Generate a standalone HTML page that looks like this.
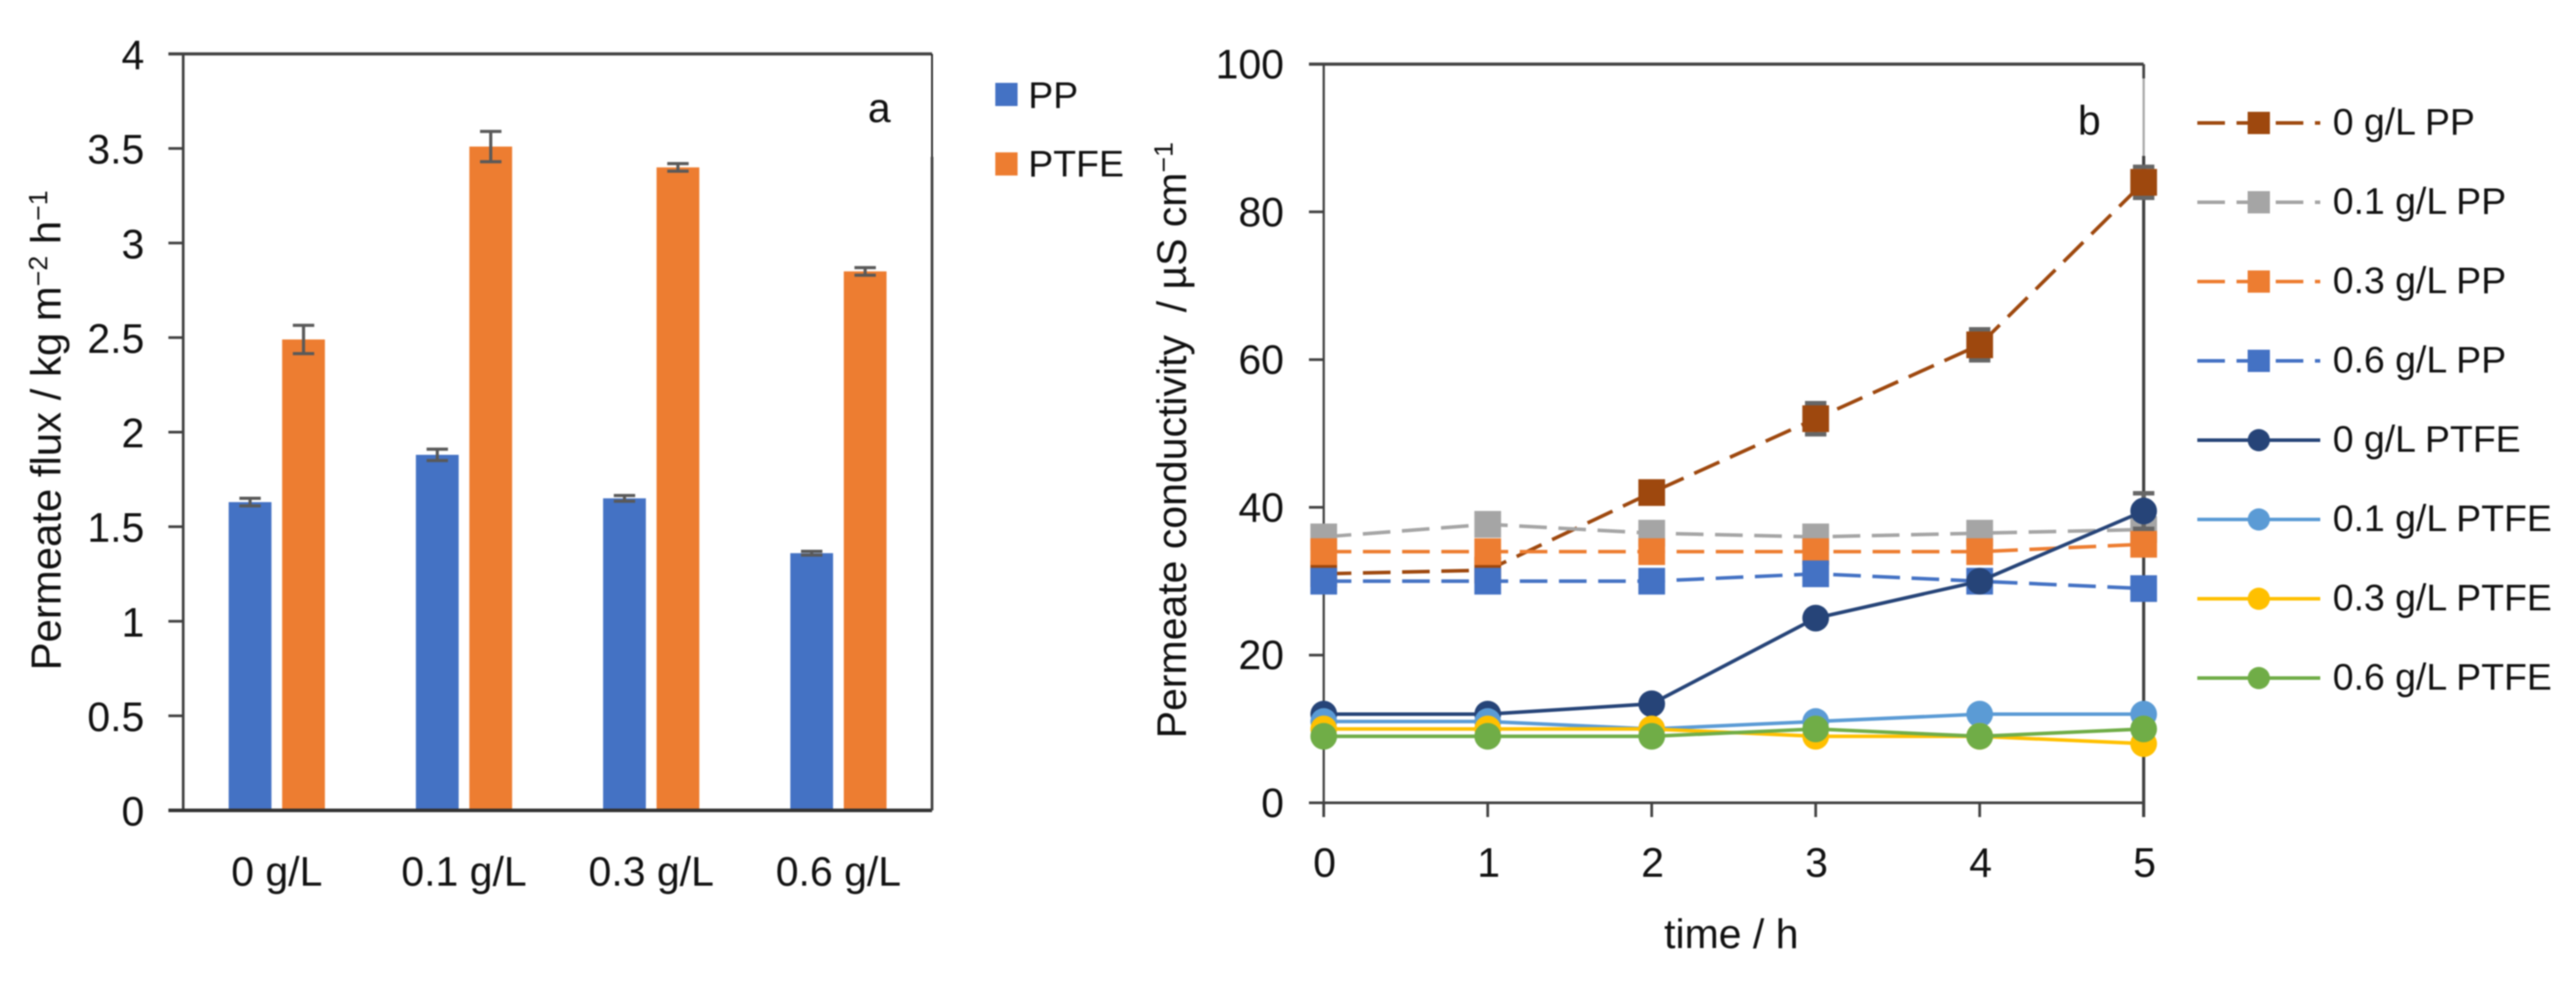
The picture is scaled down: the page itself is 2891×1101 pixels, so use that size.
<!DOCTYPE html>
<html lang="en">
<head>
<meta charset="utf-8">
<title>Permeate flux and conductivity charts</title>
<style>
html,body{margin:0;padding:0;background:#fff;}
svg{display:block;filter:blur(0.7px);}
text{font-family:"Liberation Sans",Arial,sans-serif;fill:#111;}
</style>
</head>
<body>
<svg id="fig" xmlns="http://www.w3.org/2000/svg" width="2891" height="1101" viewBox="0 0 2891 1101">
  <rect x="0" y="0" width="2891" height="1101" fill="#fff"/>
  <g id="panelA"></g>
  <g id="panelB"></g>

  <text transform="translate(68,483) rotate(-90)" text-anchor="middle" font-size="47">Permeate flux / kg m<tspan font-size="30" dy="-15">−2</tspan><tspan dy="15"> h</tspan><tspan font-size="30" dy="-15">−1</tspan></text>
  <text x="974" y="137" font-size="46">a</text>
  <rect x="1117" y="93" width="25" height="26" fill="#4472C4"/>
  <text x="1154" y="121" font-size="42">PP</text>
  <rect x="1117" y="171" width="25" height="26" fill="#ED7D31"/>
  <text x="1154" y="198" font-size="42">PTFE</text>

  <text transform="translate(1331,494) rotate(-90)" text-anchor="middle" font-size="46" xml:space="preserve">Permeate conductivity  / µS cm<tspan font-size="30" dy="-15">−1</tspan></text>
  <text x="1943" y="1064" text-anchor="middle" font-size="46">time / h</text>
  <text x="2332" y="151" font-size="46">b</text>
</svg>
<script>
const barCategories = ['0 g/L', '0.1 g/L', '0.3 g/L', '0.6 g/L'];
const ppFlux = [1.63, 1.88, 1.65, 1.36];
const ptfeFlux = [2.49, 3.51, 3.40, 2.85];
const ppFluxErr = [0.02, 0.03, 0.015, 0.01];
const ptfeFluxErr = [0.075, 0.08, 0.02, 0.02];
const fluxTicks = [0, 0.5, 1, 1.5, 2, 2.5, 3, 3.5, 4];

const hours = [0, 1, 2, 3, 4, 5];
const condTicks = [0, 20, 40, 60, 80, 100];
const pp0 = [31, 31.5, 42, 52, 62, 84];
const pp01 = [36, 37.7, 36.5, 36, 36.5, 37];
const pp03 = [34, 34, 34, 34, 34, 35];
const pp06 = [30, 30, 30, 31, 30, 29];
const ptfe0 = [12, 12, 13.4, 25, 30, 39.5];
const ptfe01 = [11, 11, 10, 11, 12, 12];
const ptfe03 = [10, 10, 10, 9, 9, 8];
const ptfe06 = [9, 9, 9, 10, 9, 10];
const pp0Err = [0, 0, 0, 2.1, 2.1, 2.1];
const ptfe0Err = [0, 0, 0, 0, 0, 2.4];
const seriesNames = ['0 g/L PP', '0.1 g/L PP', '0.3 g/L PP', '0.6 g/L PP', '0 g/L PTFE', '0.1 g/L PTFE', '0.3 g/L PTFE', '0.6 g/L PTFE'];

const NS = 'http://www.w3.org/2000/svg';
const panelA = document.getElementById('panelA');
const panelB = document.getElementById('panelB');
const AXIS = '#404040';

function make(parent, tag, attrs, content) {
  const node = document.createElementNS(NS, tag);
  for (const key in attrs) node.setAttribute(key, attrs[key]);
  if (content !== undefined) node.textContent = content;
  parent.appendChild(node);
  return node;
}

/* ---------- Panel a: bars ---------- */
const aL = 205.6, aR = 1046, aT = 60.5, aB = 909.5;
const fluxY = v => aB - (v / 4) * (aB - aT);
const catX = i => aL + (i + 0.5) * (aR - aL) / barCategories.length;
const BAR_W = 48, BAR_GAP = 12;

let n;
fluxTicks.forEach(t => {
  n = make(panelA, 'line', {x1: 189, x2: aL, y1: fluxY(t), y2: fluxY(t), stroke: AXIS, 'stroke-width': 3});
  
  
  n = make(panelA, 'text', {x: 162, y: fluxY(t) + 17, 'text-anchor': 'end', 'font-size': 46}, String(t));
  
  
});

barCategories.forEach((c, i) => {
  const cx = catX(i);
  const groups = [
    {v: ppFlux[i], e: ppFluxErr[i], x: cx - BAR_GAP / 2 - BAR_W, fill: '#4472C4', name: 'bar-pp'},
    {v: ptfeFlux[i], e: ptfeFluxErr[i], x: cx + BAR_GAP / 2, fill: '#ED7D31', name: 'bar-ptfe'}
  ];
  groups.forEach(g => {
    n = make(panelA, 'rect', {x: g.x, y: fluxY(g.v), width: BAR_W, height: aB - fluxY(g.v), fill: g.fill});
    
    
    const ex = g.x + BAR_W / 2;
    n = make(panelA, 'path', {
      d: 'M' + (ex - 12) + ' ' + fluxY(g.v + g.e) + 'H' + (ex + 12) +
         'M' + ex + ' ' + fluxY(g.v + g.e) + 'V' + fluxY(g.v - g.e) +
         'M' + (ex - 12) + ' ' + fluxY(g.v - g.e) + 'H' + (ex + 12),
      stroke: '#595959', 'stroke-width': 3.5, fill: 'none'
    });
    
    
  });
  n = make(panelA, 'text', {x: cx, y: 994, 'text-anchor': 'middle', 'font-size': 46}, c);
  
  
});

n = make(panelA, 'path', {d: 'M' + aL + ' ' + aT + 'V' + aB, stroke: AXIS, 'stroke-width': 3, fill: 'none'});


n = make(panelA, 'path', {d: 'M189 ' + aB + 'H' + aR, stroke: '#333', 'stroke-width': 4, fill: 'none'});


n = make(panelA, 'path', {d: 'M189 ' + aT + 'H' + aR, stroke: '#404040', 'stroke-width': 3.5, fill: 'none'});


n = make(panelA, 'path', {d: 'M' + aR + ' ' + aT + 'V176', stroke: '#222', 'stroke-width': 2, fill: 'none'});


n = make(panelA, 'path', {d: 'M' + aR + ' 176V' + aB, stroke: '#404040', 'stroke-width': 3, fill: 'none'});



/* ---------- Panel b: lines ---------- */
const bL = 1485.6, bR = 2405.8, bT = 72, bB = 901;
const condY = v => bB - (v / 100) * (bB - bT);
const hourX = h => bL + (h / 5) * (bR - bL);

condTicks.forEach(t => {
  n = make(panelB, 'line', {x1: 1469, x2: bL, y1: condY(t), y2: condY(t), stroke: AXIS, 'stroke-width': 3});
  
  
  n = make(panelB, 'text', {x: 1441, y: condY(t) + 16, 'text-anchor': 'end', 'font-size': 46}, String(t));
  
  
});
hours.forEach(h => {
  n = make(panelB, 'line', {x1: hourX(h), x2: hourX(h), y1: bB, y2: 917, stroke: AXIS, 'stroke-width': 3});
  
  
  n = make(panelB, 'text', {x: hourX(h) + 1, y: 984, 'text-anchor': 'middle', 'font-size': 46}, String(h));
  
  
});
n = make(panelB, 'path', {d: 'M' + bL + ' ' + bT + 'V917', stroke: AXIS, 'stroke-width': 2.5, fill: 'none'});


n = make(panelB, 'path', {d: 'M1469 ' + bB + 'H' + bR, stroke: AXIS, 'stroke-width': 3, fill: 'none'});


n = make(panelB, 'path', {d: 'M1469 ' + bT + 'H' + bR, stroke: AXIS, 'stroke-width': 3.5, fill: 'none'});


n = make(panelB, 'path', {d: 'M' + bR + ' ' + bT + 'V88', stroke: AXIS, 'stroke-width': 3, fill: 'none'});


n = make(panelB, 'path', {d: 'M' + bR + ' 88V175', stroke: '#a8a8a8', 'stroke-width': 2.5, fill: 'none'});


n = make(panelB, 'path', {d: 'M' + bR + ' 175V917', stroke: AXIS, 'stroke-width': 3.5, fill: 'none'});



const seriesValues = [pp0, pp01, pp03, pp06, ptfe0, ptfe01, ptfe03, ptfe06];
const seriesColors = ['#9E480E', '#A5A5A5', '#ED7D31', '#4472C4', '#264478', '#5B9BD5', '#FFC000', '#70AD47'];
const seriesSlugs = ['pp-0', 'pp-01', 'pp-03', 'pp-06', 'ptfe-0', 'ptfe-01', 'ptfe-03', 'ptfe-06'];
const seriesErrs = [pp0Err, null, null, null, ptfe0Err, null, null, null];

function drawMarker(parent, x, y, isSquare, size, color) {
  if (isSquare) return make(parent, 'rect', {x: x - size / 2, y: y - size / 2, width: size, height: size, fill: color});
  return make(parent, 'circle', {cx: x, cy: y, r: size / 2, fill: color});
}

seriesValues.forEach((vals, s) => {
  const isPP = s < 4;
  const group = make(panelB, 'g', {});
  
  
  const errs = seriesErrs[s];
  if (errs) {
    errs.forEach((e, i) => {
      if (!e) return;
      const ex = hourX(hours[i]);
      n = make(group, 'path', {
        d: 'M' + (ex - 12) + ' ' + condY(vals[i] + e) + 'H' + (ex + 12) +
           'M' + ex + ' ' + condY(vals[i] + e) + 'V' + condY(vals[i] - e) +
           'M' + (ex - 12) + ' ' + condY(vals[i] - e) + 'H' + (ex + 12),
        stroke: '#666', 'stroke-width': 5, fill: 'none'
      });
      
      
    });
  }
  const pts = vals.map((v, i) => hourX(hours[i]) + ',' + condY(v)).join(' ');
  const lineAttrs = {points: pts, fill: 'none', stroke: seriesColors[s], 'stroke-width': 4};
  if (isPP) lineAttrs['stroke-dasharray'] = '31 13';
  n = make(group, 'polyline', lineAttrs);
  
  
  vals.forEach((v, i) => {
    n = drawMarker(group, hourX(hours[i]), condY(v), isPP, 30, seriesColors[s]);
    
    
  });

  /* legend */
  const rowY = 138 + s * 89;
  const lg = make(panelB, 'g', {});
  
  
  const legendLine = {x1: 2466, x2: 2604, y1: rowY, y2: rowY, stroke: seriesColors[s], 'stroke-width': 4};
  if (isPP) legendLine['stroke-dasharray'] = '31 13';
  n = make(lg, 'line', legendLine);
  
  
  n = drawMarker(lg, 2535, rowY, isPP, 25, seriesColors[s]);
  
  
  n = make(lg, 'text', {x: 2618, y: rowY + 13, 'font-size': 42}, seriesNames[s]);
  
  
});
</script>
</body>
</html>
